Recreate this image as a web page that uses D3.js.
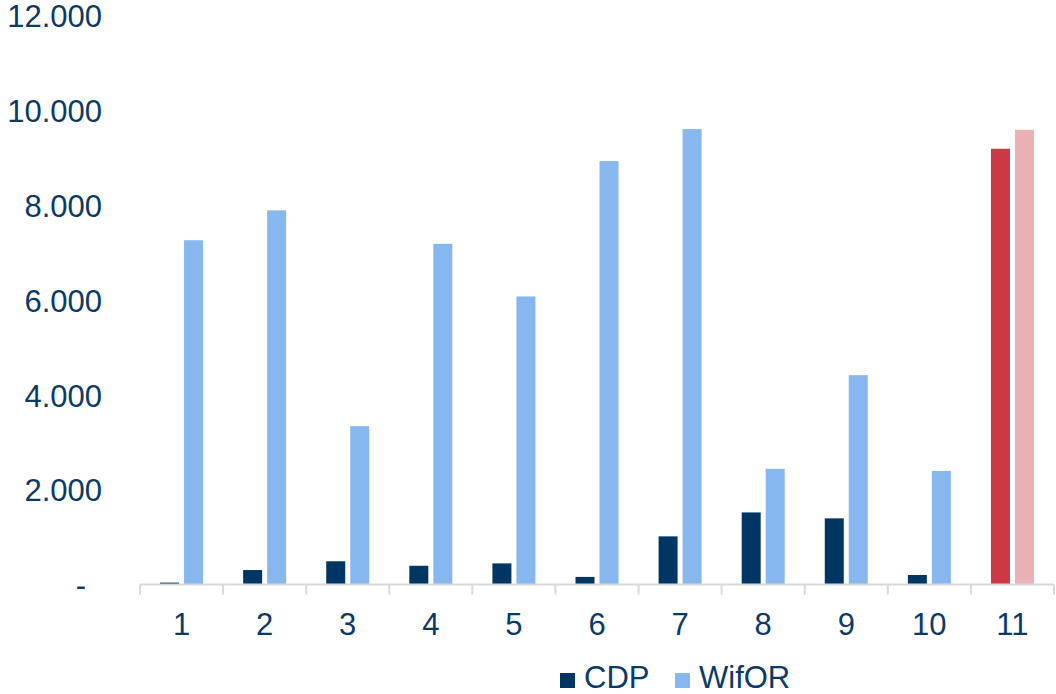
<!DOCTYPE html>
<html>
<head>
<meta charset="utf-8">
<script src="https://cdn.jsdelivr.net/npm/d3@7/dist/d3.min.js"></script>
<style>
  html, body { margin: 0; padding: 0; background: #ffffff; }
  svg { display: block; }
  text { font-family: "Liberation Sans", Arial, sans-serif; fill: #0b3a66; }
</style>
</head>
<body>
<svg id="chart" width="1056" height="694"></svg>
<script>
// Categories along the x axis
const categories = ["1", "2", "3", "4", "5", "6", "7", "8", "9", "10", "11"];

// Series names and values
const seriesNames = ["CDP", "WifOR"];
const cdpValues   = [40, 305, 490, 395, 445, 160, 1015, 1520, 1395, 200, 9190];
const wiforValues = [7260, 7890, 3340, 7185, 6075, 8930, 9605, 2440, 4415, 2395, 9590];

// Y axis ticks and their labels
const yTicks = [0, 2000, 4000, 6000, 8000, 10000, 12000];
const yTickLabels = ["-", "2.000", "4.000", "6.000", "8.000", "10.000", "12.000"];

// Colours: regular categories and the highlighted last category
const seriesColors   = { CDP: "#003663", WifOR: "#86b7ef" };
const highlightColors = { CDP: "#cc3844", WifOR: "#ebb0b6" };
const highlightCategory = "11";

const svg = d3.select("#chart");
const margin = { left: 140, right: 2, top: 15.5, bottom: 109.5 };
const width = 1056, height = 694;

const x = d3.scaleBand()
  .domain(categories)
  .range([margin.left, width - margin.right])
  .padding(0);

const y = d3.scaleLinear()
  .domain([0, 12000])
  .range([height - margin.bottom, margin.top]);

const groupWidth = 43;
const x1 = d3.scaleBand()
  .domain(seriesNames)
  .range([x.bandwidth() / 2 - groupWidth / 2, x.bandwidth() / 2 + groupWidth / 2])
  .paddingInner(5 / 24)
  .paddingOuter(0);

const rows = categories.map((c, i) => ({
  category: c,
  values: [
    { key: "CDP", value: cdpValues[i] },
    { key: "WifOR", value: wiforValues[i] }
  ]
}));

// Bars
const groups = svg.append("g").selectAll("g")
  .data(rows)
  .join("g")
  .attr("transform", d => `translate(${x(d.category)},0)`);

groups.selectAll("rect")
  .data(d => d.values.map(v => ({ ...v, category: d.category })))
  .join("rect")
  .attr("x", d => x1(d.key))
  .attr("width", x1.bandwidth())
  .attr("y", d => y(d.value))
  .attr("height", d => y(0) - y(d.value))
  .attr("fill", d => d.category === highlightCategory ? highlightColors[d.key] : seriesColors[d.key]);

// Y axis labels (no line, no ticks)
const yAxis = d3.axisLeft(y)
  .tickValues(yTicks)
  .tickFormat((d, i) => yTickLabels[i])
  .tickSize(0)
  .tickPadding(0);

const yG = svg.append("g")
  .attr("transform", "translate(102,0)")
  .call(yAxis);
yG.select(".domain").remove();
yG.selectAll("text")
  .style("font-size", "31px")
  .attr("fill", "#0b3a66")
  .attr("dy", "0.36em")
  .attr("dx", (d) => d === 0 ? -16 : 0);

// X axis: baseline with separator ticks at band edges
const xG = svg.append("g")
  .attr("transform", `translate(0,${y(0)})`);

xG.append("line")
  .attr("x1", x.range()[0])
  .attr("x2", x.range()[1])
  .attr("y1", 0).attr("y2", 0)
  .attr("stroke", "#d9d9d9")
  .attr("stroke-width", 2);

const edges = categories.map(c => x(c)).concat([x.range()[1]]);
xG.selectAll("line.sep")
  .data(edges)
  .join("line")
  .attr("class", "sep")
  .attr("x1", d => d).attr("x2", d => d)
  .attr("y1", 0).attr("y2", 10)
  .attr("stroke", "#d9d9d9")
  .attr("stroke-width", 2);

xG.selectAll("text.cat")
  .data(categories)
  .join("text")
  .attr("class", "cat")
  .attr("x", d => x(d) + x.bandwidth() / 2)
  .attr("y", 50)
  .attr("text-anchor", "middle")
  .style("font-size", "31px")
  .text(d => d);

// Legend
const legend = svg.append("g").attr("transform", "translate(560,673)");
const legendOffsets = [0, 115];
seriesNames.forEach((name, i) => {
  const g = legend.append("g").attr("transform", `translate(${legendOffsets[i]},0)`);
  g.append("rect")
    .attr("width", 15).attr("height", 15)
    .attr("fill", seriesColors[name]);
  g.append("text")
    .attr("x", 24)
    .attr("y", 15)
    .style("font-size", "31px")
    .text(name);
});
</script>
</body>
</html>
